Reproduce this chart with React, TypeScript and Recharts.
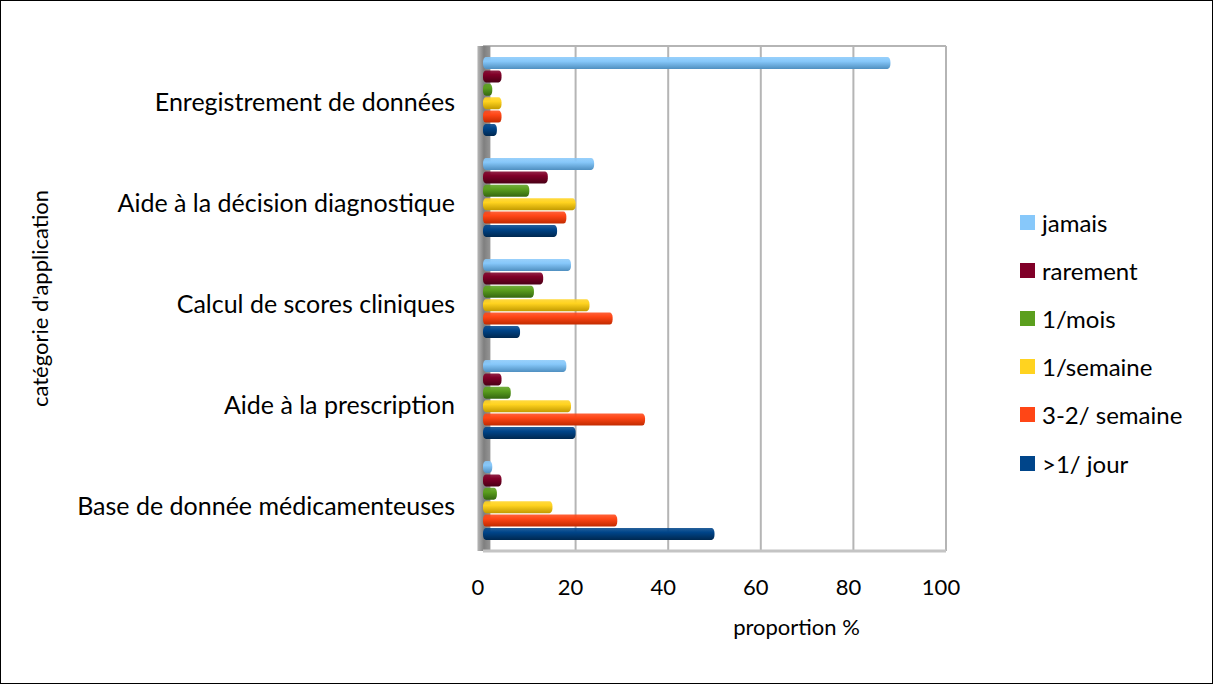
import { BarChart, Bar, XAxis, YAxis, CartesianGrid, ReferenceArea } from "recharts";

const categories = [
  "Enregistrement de données",
  "Aide à la décision diagnostique",
  "Calcul de scores cliniques",
  "Aide à la prescription",
  "Base de donnée médicamenteuses",
];

const jamais = [88, 24, 19, 18, 2];
const rarement = [4, 14, 13, 4, 4];
const unMois = [2, 10, 11, 6, 3];
const unSemaine = [4, 20, 23, 19, 15];
const troisDeuxSemaine = [4, 18, 28, 35, 29];
const unJour = [3, 16, 8, 20, 50];

const xTicks = [0, 20, 40, 60, 80, 100];

const series = [
  { key: "jamais", name: "jamais", color: "#87c8fa", dark: "#4f8fc0", values: jamais },
  { key: "rarement", name: "rarement", color: "#800028", dark: "#4a0016", values: rarement },
  { key: "unMois", name: "1/mois", color: "#5b9f1e", dark: "#346610", values: unMois },
  { key: "unSemaine", name: "1/semaine", color: "#ffd320", dark: "#c29a00", values: unSemaine },
  { key: "troisDeux", name: "3-2/ semaine", color: "#ff4616", dark: "#c02a00", values: troisDeuxSemaine },
  { key: "unJour", name: ">1/ jour", color: "#00458a", dark: "#002850", values: unJour },
];

const data = categories.map((name, i) => {
  const row: Record<string, string | number> = { name };
  series.forEach((s) => {
    row[s.key] = s.values[i];
  });
  return row;
});

const font = "Lato, 'Open Sans', sans-serif";

const Cylinder = (props: any) => {
  const { x, y, width, height, gid } = props;
  if (!width || width <= 0) return null;
  const r = Math.min(3, width / 2);
  return (
    <rect x={x} y={y} width={width} height={height} rx={r} ry={height / 2.4} fill={`url(#${gid})`} />
  );
};

const LegendBox = () => (
  <div
    style={{
      position: "absolute",
      left: 1019,
      top: 197,
      fontFamily: font,
      fontSize: 24,
      color: "#000",
    }}
  >
    {series.map((s) => (
      <div key={s.key} style={{ display: "flex", alignItems: "center", height: 48.2 }}>
        <span style={{ width: 15, height: 15, background: s.color, display: "inline-block", marginRight: 7 }} />
        <span>{s.name}</span>
      </div>
    ))}
  </div>
);

export default function App() {
  return (
    <div
      style={{
        position: "absolute",
        left: 0,
        top: 0,
        width: 1213,
        height: 684,
        border: "1px solid #000",
        boxSizing: "border-box",
        background: "#fff",
      }}
    >
      <BarChart
        width={1211}
        height={682}
        data={data}
        layout="vertical"
        margin={{ top: 45, right: 266, bottom: 102, left: 0 }}
        barSize={12}
        barGap={1.4}
      >
        <defs>
          {series.map((s) => (
            <linearGradient key={s.key} id={`g-${s.key}`} x1="0" y1="0" x2="0" y2="1">
              <stop offset="0%" stopColor={s.color} stopOpacity={0.85} />
              <stop offset="35%" stopColor={s.color} />
              <stop offset="100%" stopColor={s.dark} />
            </linearGradient>
          ))}
          <linearGradient id="wall" x1="0" y1="0" x2="1" y2="0">
            <stop offset="0%" stopColor="#b8b8b8" />
            <stop offset="50%" stopColor="#7f7f7f" />
            <stop offset="100%" stopColor="#969696" />
          </linearGradient>
        </defs>
        <CartesianGrid
          vertical
          horizontal
          stroke="#b5b5b5"
          strokeWidth={2}
          horizontalCoordinatesGenerator={({ offset }: any) => [offset.top]}
        />
        <ReferenceArea x1={-1.2} x2={1.6} ifOverflow="visible" fill="url(#wall)" fillOpacity={1} stroke="none" />
        <XAxis
          type="number"
          domain={[0, 100]}
          ticks={xTicks}
          tickLine={false}
          axisLine={{ stroke: "#c4c4c4", strokeWidth: 3 }}
          tick={{ fill: "#000", fontSize: 22, fontFamily: font, dx: -5 }}
          tickMargin={22}
          label={{
            value: "proportion %",
            position: "bottom",
            offset: 38,
            dx: 82,
            style: { fill: "#000", fontSize: 22, fontFamily: font },
          }}
        />
        <YAxis
          type="category"
          dataKey="name"
          width={482}
          tickLine={false}
          tickSize={0}
          tickMargin={28}
          axisLine={false}
          tick={{ fill: "#000", fontSize: 25, fontFamily: font, dy: 6 }}
          label={{
            value: "catégorie d'application",
            angle: -90,
            position: "insideLeft",
            offset: 0,
            dx: 39,
            style: { fill: "#000", fontSize: 22, fontFamily: font, textAnchor: "middle" },
          }}
        />
        {series.map((s) => (
          <Bar
            key={s.key}
            dataKey={s.key}
            name={s.name}
            fill={s.color}
            isAnimationActive={false}
            shape={(p: any) => <Cylinder {...p} gid={`g-${s.key}`} />}
          />
        ))}
      </BarChart>
      <LegendBox />
    </div>
  );
}
